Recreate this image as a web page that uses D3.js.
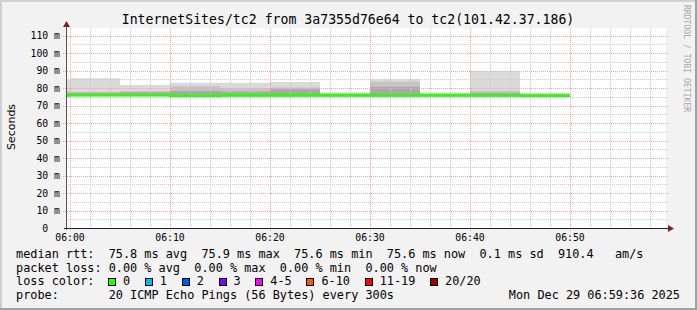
<!DOCTYPE html>
<html>
<head>
<meta charset="utf-8">
<script src="https://cdn.jsdelivr.net/npm/d3@7"></script>
<style>
  body { margin: 0; background: #f2f2f2; }
  svg text { font-family: "DejaVu Sans Mono", monospace; white-space: pre; }
</style>
</head>
<body>
<svg id="chart" width="697" height="310"></svg>
<script>
// 5 minute intervals, labelled by their end time (value holds over the previous 5 min)
const intervalEnd = ["06:00","06:05","06:10","06:15","06:20","06:25","06:30","06:35","06:40","06:45","06:50"];
// smoke bands in ms (outer, middle, inner) and the lowest ping
const pingMax   = [84.5, 85.6, 81.8, 83.0, 83.0, 83.4, 77.6, 85.0, 77.6, 89.7, 77.2];
const pingUpper = [78.0, 77.8, 78.2, 81.0, 79.8, 80.2, 77.0, 83.6, 76.9, 78.4, 76.8];
const pingInner = [77.2, 77.2, 77.6, 78.4, 78.0, 79.3, 76.6, 80.6, 76.5, 77.2, 76.3];
const pingMin   = [75.3, 75.4, 75.4, 74.9, 75.3, 75.3, 75.3, 75.2, 75.3, 75.2, 75.1];
const medianRtt = [75.8, 75.9, 75.9, 75.6, 75.8, 75.8, 75.8, 75.7, 75.8, 75.7, 75.6];
const lossPings = [0, 0, 0, 0, 0, 0, 0, 0, 0, 0, 0];

const yTicks = [0, 10, 20, 30, 40, 50, 60, 70, 80, 90, 100, 110];
const xTickLabels = ["06:00","06:10","06:20","06:30","06:40","06:50"];

const lossLabels = ["0","1","2","3","4-5","6-10","11-19","20/20"];
const lossColors = ["#26ff00","#00b8ff","#0059ff","#7e00ff","#ff00ff","#ff5500","#ff0000","#a10000"];

const titleText = "InternetSites/tc2 from 3a7355d76e64 to tc2(101.42.37.186)";
const statLines = [
  "median rtt:  75.8 ms avg  75.9 ms max  75.6 ms min  75.6 ms now  0.1 ms sd  910.4   am/s",
  "packet loss: 0.00 % avg  0.00 % max  0.00 % min  0.00 % now"
];
const probeText = "probe:       20 ICMP Echo Pings (56 Bytes) every 300s";
const stampText = "Mon Dec 29 06:59:36 2025";

const day = "2025-12-29T";
const parseT = d3.timeParse("%Y-%m-%dT%H:%M:%S");
const tStart = parseT(day + "05:59:36"), tEnd = parseT(day + "06:59:36");

const svg = d3.select("#chart");
const W = 697, H = 310;
const pLeft = 66, pRight = 666, pTop = 28, pBottom = 228;

// background and 3d frame
svg.append("rect").attr("width", W).attr("height", H).attr("fill", "#f2f2f2");
svg.append("path").attr("d", `M0,${H} V0 H${W}`).attr("fill", "none").attr("stroke", "#d0d0d0").attr("stroke-width", 4);
svg.append("path").attr("d", `M${W},0 V${H} H0`).attr("fill", "none").attr("stroke", "#a0a0a0").attr("stroke-width", 4);

const x = d3.scaleTime().domain([tStart, tEnd]).range([pLeft, pRight]);
const y = d3.scaleLinear().domain([0, 114.3]).range([pBottom, pTop]);

svg.append("rect").attr("x", pLeft).attr("y", pTop).attr("width", pRight - pLeft).attr("height", pBottom - pTop).attr("fill", "#fff");

svg.append("defs").append("clipPath").attr("id", "plot")
   .append("rect").attr("x", pLeft).attr("y", pTop).attr("width", pRight - pLeft).attr("height", pBottom - pTop);

const rows = intervalEnd.map(function(t, i){
    let end = parseT(day + t + ":00");
    return {start: d3.timeMinute.offset(end, -5), end: end,
            max: pingMax[i], upper: pingUpper[i], inner: pingInner[i],
            min: pingMin[i], median: medianRtt[i], loss: lossPings[i]};
});

// smoke: outer bands lighter, inner darker
const smoke = svg.append("g").attr("clip-path", "url(#plot)");
const bands = [["max", "#dadada"], ["upper", "#c4c4c4"], ["inner", "#a9a9a9"]];
bands.forEach(function(b){
    smoke.selectAll(null).data(rows).enter().append("rect")
         .attr("x", d => x(d.start))
         .attr("width", d => x(d.end) - x(d.start))
         .attr("y", d => y(d[b[0]]))
         .attr("height", d => y(d.min) - y(d[b[0]]))
         .attr("fill", b[1]);
});

// grid
const grid = svg.append("g");
const minorY = d3.range(0, 115, 5).filter(v => v % 10 !== 0);
grid.selectAll(null).data(minorY).enter().append("line")
    .attr("x1", pLeft).attr("x2", pRight + 2).attr("y1", d => Math.round(y(d)) + 0.5).attr("y2", d => Math.round(y(d)) + 0.5)
    .attr("stroke", "#cbcbcb").attr("stroke-dasharray", "1,1");
const minorX = d3.timeMinute.every(2).range(tStart, tEnd).filter(t => t.getMinutes() % 10 !== 0);
grid.selectAll(null).data(minorX).enter().append("line")
    .attr("y1", pTop).attr("y2", pBottom).attr("x1", d => Math.round(x(d)) + 0.5).attr("x2", d => Math.round(x(d)) + 0.5)
    .attr("stroke", "#cbcbcb").attr("stroke-dasharray", "1,1");
grid.selectAll(null).data(yTicks.slice(1)).enter().append("line")
    .attr("x1", pLeft - 3).attr("x2", pRight + 2).attr("y1", d => Math.round(y(d)) + 0.5).attr("y2", d => Math.round(y(d)) + 0.5)
    .attr("stroke", "#f0a4a4").attr("stroke-dasharray", "1,1");
const majorX = d3.timeMinute.every(10).range(tStart, tEnd);
grid.selectAll(null).data(majorX).enter().append("line")
    .attr("y1", pTop).attr("y2", pBottom + 3).attr("x1", d => Math.round(x(d)) + 0.5).attr("x2", d => Math.round(x(d)) + 0.5)
    .attr("stroke", "#f0a4a4").attr("stroke-dasharray", "1,1");

// median line, coloured by loss
const medPts = [{t: rows[0].start, v: rows[0].median}].concat(rows.map(d => ({t: d.end, v: d.median})));
const medLine = d3.line().x(d => x(d.t)).y(d => y(d.v)).curve(d3.curveStepBefore);
svg.append("path").attr("clip-path", "url(#plot)").datum(medPts)
   .attr("d", medLine).attr("fill", "none").attr("stroke", lossColors[lossPings[0]]).attr("stroke-width", 2.6);

// axes
svg.append("line").attr("x1", pLeft + 0.5).attr("x2", pLeft + 0.5).attr("y1", pBottom + 2).attr("y2", pTop - 4)
   .attr("stroke", "#555");
svg.append("line").attr("x1", pLeft - 2).attr("x2", pRight + 2).attr("y1", pBottom + 0.5).attr("y2", pBottom + 0.5)
   .attr("stroke", "#222");
svg.append("path").attr("d", `M${pLeft - 3},${pTop - 1} L${pLeft + 0.5},${pTop - 7} L${pLeft + 4},${pTop - 1} Z`).attr("fill", "#7f1f1f");
svg.append("path").attr("d", `M${pRight + 2},${pBottom - 3} L${pRight + 8},${pBottom + 0.5} L${pRight + 2},${pBottom + 4} Z`).attr("fill", "#7f1f1f");

// y labels
svg.append("g").selectAll("text").data(yTicks).enter().append("text")
   .attr("x", 60).attr("y", d => y(d)).attr("dy", "0.36em").attr("text-anchor", "end")
   .style("font-size", "9.8px").attr("fill", "#000")
   .text(d => d === 0 ? "0  " : d + " m");

// x labels
svg.append("g").selectAll("text").data(xTickLabels).enter().append("text")
   .attr("x", d => x(parseT(day + d + ":00"))).attr("y", 241).attr("text-anchor", "middle")
   .style("font-size", "9.8px").attr("fill", "#000")
   .text(d => d);

// title and y axis title
svg.append("text").attr("x", 348).attr("y", 24).attr("text-anchor", "middle")
   .style("font-size", "13.2px").text(titleText);
svg.append("text").attr("transform", "translate(15,127) rotate(-90)").attr("text-anchor", "middle")
   .style("font-family", "DejaVu Sans, sans-serif").style("font-size", "11px").text("Seconds");
svg.append("text").attr("transform", "translate(684,5) rotate(90)").attr("text-anchor", "start")
   .style("font-size", "8.1px").attr("fill", "#a8a8a8").text("RRDTOOL / TOBI OETIKER");

// legend
const fs = 11.85, cw = fs * 0.602;
statLines.forEach(function(s, i){
    svg.append("text").attr("x", 16).attr("y", 258 + i * 13.5).style("font-size", fs + "px").text(s);
});
svg.append("text").attr("x", 16).attr("y", 285).style("font-size", fs + "px").text("loss color:");
let bx = 108;
lossLabels.forEach(function(l, i){
    svg.append("rect").attr("x", Math.round(bx) + 0.5).attr("y", 278.5).attr("width", 7).attr("height", 7)
       .attr("fill", lossColors[i]).attr("stroke", "#000");
    svg.append("text").attr("x", bx + 15).attr("y", 285).style("font-size", fs + "px").text(l);
    bx += 15 + l.length * cw + 14.7;
});
svg.append("text").attr("x", 16).attr("y", 298.5).style("font-size", fs + "px").text(probeText);
svg.append("text").attr("x", 680).attr("y", 298.5).attr("text-anchor", "end").style("font-size", fs + "px").text(stampText);
</script>
</body>
</html>
